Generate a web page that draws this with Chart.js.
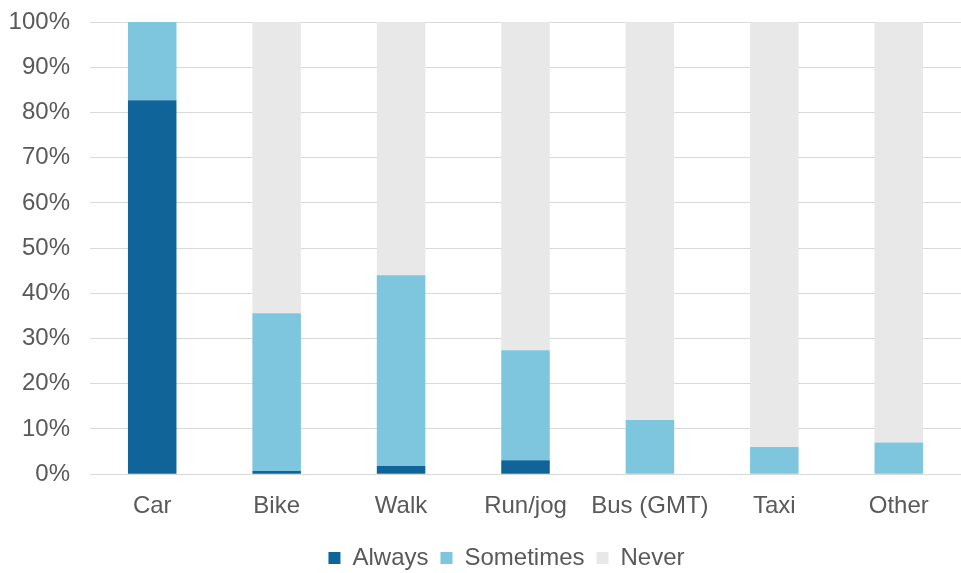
<!DOCTYPE html>
<html>
<head>
<meta charset="utf-8">
<script src="https://cdn.jsdelivr.net/npm/chart.js@4"></script>
<style>
  html, body { margin: 0; padding: 0; background: #fff; overflow: hidden; }
  #wrap { width: 961px; height: 573px; }
</style>
</head>
<body>
<div id="wrap"><canvas id="modeChart"></canvas></div>
<script>
// values (percent of respondents)
const categories = ['Car', 'Bike', 'Walk', 'Run/jog', 'Bus (GMT)', 'Taxi', 'Other'];
const always = [82.7, 0.7, 1.8, 3.1, 0, 0, 0];
const sometimes = [17.3, 34.9, 42.2, 24.3, 12.0, 6.0, 7.0];
const never = [0, 64.4, 56.0, 72.6, 88.0, 94.0, 93.0];
const yTicks = [0, 10, 20, 30, 40, 50, 60, 70, 80, 90, 100];

const textColor = '#595959';
const font = { family: 'Arial, "Liberation Sans", sans-serif', size: 24 };

// nudge the legend a bit to the right, like the original
const legendShift = {
    id: 'legendShift',
    afterLayout(chart) {
        chart.legend.left += 26;
        chart.legend.right += 26;
    }
};

let ctx = document.getElementById('modeChart').getContext('2d');
let chart = new Chart(ctx, {
    type: 'bar',
    data: {
        labels: categories,
        datasets: [
            { label: 'Always', data: always, backgroundColor: '#0f6599' },
            { label: 'Sometimes', data: sometimes, backgroundColor: '#7ec5de' },
            { label: 'Never', data: never, backgroundColor: '#e8e8e8' }
        ]
    },
    options: {
        responsive: true,
        maintainAspectRatio: false,
        animation: false,
        layout: { padding: { top: 22, left: 0, right: 0, bottom: -7 } },
        datasets: {
            bar: { barPercentage: 0.39, categoryPercentage: 1.0 }
        },
        scales: {
            x: {
                stacked: true,
                grid: { display: false },
                border: { display: false },
                ticks: { color: textColor, font: font, padding: 10 },
                afterFit: function(axis) {
                    axis.height += 3;
                }
            },
            y: {
                stacked: true,
                min: 0,
                max: 100,
                afterBuildTicks: function(axis) {
                    axis.ticks = yTicks.map(v => ({ value: v }));
                },
                afterFit: function(axis) {
                    axis.width = 90;
                    axis.paddingTop = 0;
                    axis.paddingBottom = 0;
                },
                grid: { color: '#d9d9d9', lineWidth: 1, drawTicks: false },
                border: { display: false },
                ticks: {
                    color: textColor,
                    font: font,
                    padding: 20,
                    callback: v => v + '%'
                }
            }
        },
        plugins: {
            legend: {
                position: 'bottom',
                labels: {
                    color: textColor,
                    font: font,
                    boxWidth: 12,
                    boxHeight: 12,
                    padding: 12
                }
            },
            tooltip: { enabled: false }
        }
    },
    plugins: [legendShift]
});
</script>
</body>
</html>
